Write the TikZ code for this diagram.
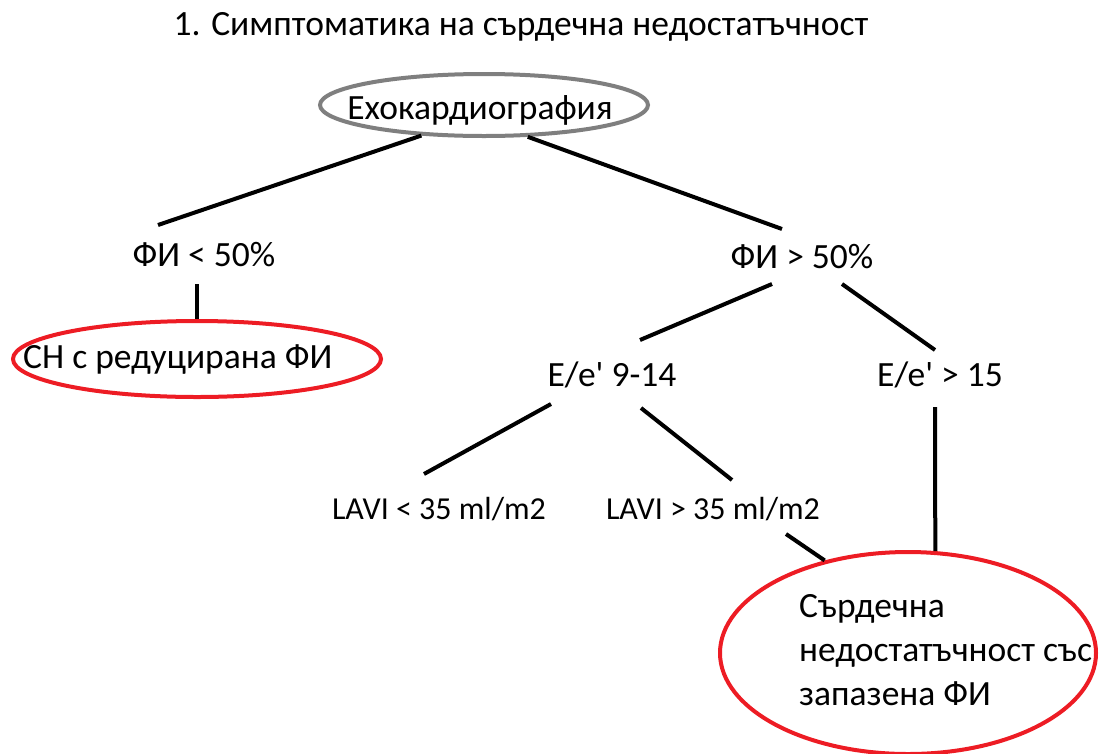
\documentclass[tikz,border=0pt]{standalone}
\usepackage{fontspec}
\setmainfont{Carlito}[Ligatures=TeXOff]
\usetikzlibrary{shapes.geometric,calc}
\definecolor{edgered}{RGB}{237,28,36}
\definecolor{edgegray}{RGB}{127,127,127}
\begin{document}
\begin{tikzpicture}[x=1pt,y=-1pt,
  lbl/.style={inner sep=0pt, anchor=base, font=\fontsize{35.5}{44}\selectfont},
  small/.style={lbl, font=\fontsize{32}{44}\selectfont},
  link/.style={line width=4pt, black},
  oval/.style={ellipse, draw, line width=4pt, inner sep=0pt}]
\useasboundingbox (0,0) rectangle (1099,753);

% ovals
\node[oval, draw=edgegray, minimum width=328pt, minimum height=62pt] (echo) at (484,105) {};
\node[oval, draw=edgered, minimum width=368pt, minimum height=76pt] (red1) at (197,359) {};
\node[oval, draw=edgered, minimum width=376pt, minimum height=202pt] (red2) at (908,653) {};

% texts
\node[lbl] (title) at (521,35) {1. Симптоматика на сърдечна недостатъчност};
\node[lbl] (echoT) at (480,119) {Ехокардиография};
\node[lbl] (fi1) at (204,266) {ФИ < 50\%};
\node[lbl] (fi2) at (802,268) {ФИ > 50\%};
\node[lbl] (ee1) at (612,386) {E/e' 9-14};
\node[lbl] (ee2) at (940,386) {E/e' > 15};
\node[small] (lavi1) at (439,519) {LAVI < 35 ml/m2};
\node[small] (lavi2) at (713,519) {LAVI > 35 ml/m2};
\node[lbl, anchor=base west] (red1T) at (23,368) {СН с редуцирана ФИ};
\node[lbl, anchor=west, align=left] (red2T) at (799,650)
  {Сърдечна\\недостатъчност със\\запазена ФИ};

% connectors
\draw[link] (echo.206) -- ($(fi1.base)+(-46,-41)$);
\draw[link] (echo.324) -- ($(fi2.base)+(-20,-39)$);
\draw[link] ($(fi1.base)+(-7,18)$) -- (red1.north);
\draw[link] ($(fi2.base)+(-30,16)$) -- ($(ee1.base)+(28,-46)$);
\draw[link] ($(fi2.base)+(40,16)$) -- ($(ee2.base)+(-5,-36)$);
\draw[link] ($(ee1.base)+(-61,18)$) -- ($(lavi1.base)+(-15,-45)$);
\draw[link] ($(ee1.base)+(29,22)$) -- ($(lavi2.base)+(19,-39)$);
\draw[link] ($(ee2.base)+(-5,21)$) -- (red2.75);
\draw[link] ($(lavi2.base)+(73,15)$) -- (red2.132);
\end{tikzpicture}
\end{document}
